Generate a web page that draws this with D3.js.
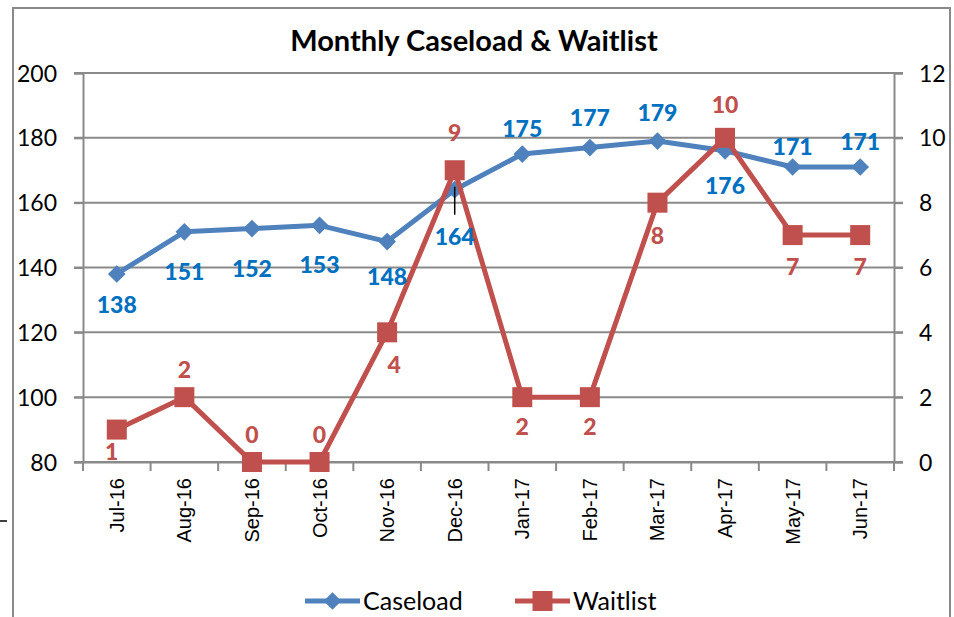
<!DOCTYPE html>
<html><head><meta charset="utf-8">
<script src="https://cdn.jsdelivr.net/npm/d3@7"></script>
<style>body{margin:0;background:#fff}svg{display:block}</style>
</head><body>
<script>
const months = ["Jul-16","Aug-16","Sep-16","Oct-16","Nov-16","Dec-16","Jan-17","Feb-17","Mar-17","Apr-17","May-17","Jun-17"];
const caseload = [138,151,152,153,148,164,175,177,179,176,171,171];
const waitlist = [1,2,0,0,4,9,2,2,8,10,7,7];
const leftTicks = [80,100,120,140,160,180,200];
const rightTicks = [0,2,4,6,8,10,12];
// label placement offsets (px, relative to the point)
const caseloadLabelDy = [31,40,40,40,35,47,-25,-30,-28,35,-20,-25];
const waitlistLabelDy = [22,-27,-27,-27,33,-37,30,30,33,-33,32,32];
const waitlistLabelDx = [-5,0,0,0,7,0,0,0,0,0,0,0];

const W = 954, H = 617;
const svg = d3.select("body").append("svg").attr("width", W).attr("height", H);
const m = {l:83, r:894, t:73, b:462};
const x = d3.scaleBand().domain(months).range([m.l, m.r]);
const yL = d3.scaleLinear().domain([80,200]).range([m.b, m.t]);
const yR = d3.scaleLinear().domain([0,12]).range([m.b, m.t]);
const grey = "#8a8a8a";
const font = "Lato, 'Open Sans', sans-serif";
const blue = "#4F81BD", blueTxt = "#0070C0", red = "#C0504D";

// outer frame
svg.append("rect").attr("x",13).attr("y",8).attr("width",937).attr("height",640)
  .attr("fill","none").attr("stroke",grey).attr("stroke-width",2);
svg.append("line").attr("x1",0).attr("x2",7).attr("y1",521).attr("y2",521).attr("stroke","#000").attr("stroke-width",1.5);

// title
svg.append("text").attr("x",474).attr("y",51).attr("text-anchor","middle")
  .attr("font-family",font).attr("font-weight","bold").attr("font-size",29).attr("fill","#000")
  .text("Monthly Caseload & Waitlist");

// gridlines
svg.append("g").selectAll("line").data(leftTicks).join("line")
  .attr("x1",m.l-9).attr("x2",m.r+9).attr("y1",d=>yL(d)).attr("y2",d=>yL(d))
  .attr("stroke",grey).attr("stroke-width",2);

// left axis
const gl = svg.append("g").attr("transform",`translate(${m.l},0)`)
  .call(d3.axisLeft(yL).tickValues(leftTicks).tickSize(9).tickPadding(17));
gl.select(".domain").attr("stroke",grey).attr("stroke-width",2);
gl.selectAll("line").attr("stroke",grey).attr("stroke-width",2);
gl.selectAll("text").attr("font-family",font).attr("font-size",23).attr("fill","#000").attr("dy","0.35em");

// right axis
const gr = svg.append("g").attr("transform",`translate(${m.r},0)`)
  .call(d3.axisRight(yR).tickValues(rightTicks).tickSize(9).tickPadding(16));
gr.select(".domain").attr("stroke",grey).attr("stroke-width",2);
gr.selectAll("line").attr("stroke",grey).attr("stroke-width",2);
gr.selectAll("text").attr("font-family",font).attr("font-size",23).attr("fill","#000").attr("dy","0.35em");

// bottom axis
const gb = svg.append("g").attr("transform",`translate(0,${m.b})`)
  .call(d3.axisBottom(x).tickSize(0).tickPadding(0));
gb.select(".domain").attr("stroke",grey).attr("stroke-width",2);
gb.selectAll(".tick text").remove();
const bounds = d3.range(months.length+1).map(i => m.l + i*x.step());
svg.append("g").selectAll("line").data(bounds).join("line")
  .attr("x1",d=>d).attr("x2",d=>d).attr("y1",m.b).attr("y2",m.b+9)
  .attr("stroke",grey).attr("stroke-width",2);
svg.append("g").selectAll("text").data(months).join("text")
  .attr("transform",d=>`translate(${x(d)+x.bandwidth()/2+7},${m.b+16}) rotate(-90)`)
  .attr("text-anchor","end").attr("font-family","'Liberation Sans', Arial, sans-serif")
  .attr("font-size",20).attr("fill","#000").text(d=>d);

const cx = d => x(d) + x.bandwidth()/2;

// caseload line
svg.append("path").datum(caseload).attr("fill","none").attr("stroke",blue).attr("stroke-width",5)
  .attr("stroke-linejoin","round")
  .attr("d", d3.line().x((d,i)=>cx(months[i])).y(d=>yL(d)));
svg.append("g").selectAll("path").data(caseload).join("path")
  .attr("d", d3.symbol(d3.symbolDiamond2, 200)())
  .attr("transform",(d,i)=>`translate(${cx(months[i])},${yL(d)})`).attr("fill",blue);

// waitlist line
svg.append("path").datum(waitlist).attr("fill","none").attr("stroke",red).attr("stroke-width",5)
  .attr("stroke-linejoin","round")
  .attr("d", d3.line().x((d,i)=>cx(months[i])).y(d=>yR(d)));
svg.append("g").selectAll("rect").data(waitlist).join("rect")
  .attr("x",(d,i)=>cx(months[i])-10).attr("y",d=>yR(d)-10).attr("width",20).attr("height",20).attr("fill",red);

// leader line for Dec-16
svg.append("line").attr("x1",cx(months[5])).attr("x2",cx(months[5]))
  .attr("y1",yL(caseload[5])-3).attr("y2",yL(caseload[5])+25).attr("stroke","#000").attr("stroke-width",1.5);

// labels
svg.append("g").selectAll("text").data(caseload).join("text")
  .attr("x",(d,i)=>cx(months[i])).attr("y",(d,i)=>yL(d)+caseloadLabelDy[i])
  .attr("dy","0.35em").attr("text-anchor","middle").attr("font-family",font).attr("font-weight",900)
  .attr("font-size",23).attr("fill",blueTxt).text(d=>d);
svg.append("g").selectAll("text").data(waitlist).join("text")
  .attr("x",(d,i)=>cx(months[i])+waitlistLabelDx[i]).attr("y",(d,i)=>yR(d)+waitlistLabelDy[i])
  .attr("dy","0.35em").attr("text-anchor","middle").attr("font-family",font).attr("font-weight",900)
  .attr("font-size",23).attr("fill",red).text(d=>d);

// legend
const lg = svg.append("g");
const legendItems = [{name:"Caseload", color:blue, x0:305, sym:"diamond"},{name:"Waitlist", color:red, x0:515, sym:"square"}];
legendItems.forEach(it => {
  lg.append("line").attr("x1",it.x0).attr("x2",it.x0+55).attr("y1",601).attr("y2",601)
    .attr("stroke",it.color).attr("stroke-width",5);
  if (it.sym === "diamond") {
    lg.append("path").attr("d", d3.symbol(d3.symbolDiamond2, 200)()).attr("transform",`translate(${it.x0+27.5},601)`).attr("fill",it.color);
  } else {
    lg.append("rect").attr("x",it.x0+17.5).attr("y",591).attr("width",20).attr("height",20).attr("fill",it.color);
  }
  lg.append("text").attr("x",it.x0+58).attr("y",601).attr("dy","0.35em").attr("font-family",font)
    .attr("font-size",25).attr("fill","#000").text(it.name);
});
</script>
</body></html>
